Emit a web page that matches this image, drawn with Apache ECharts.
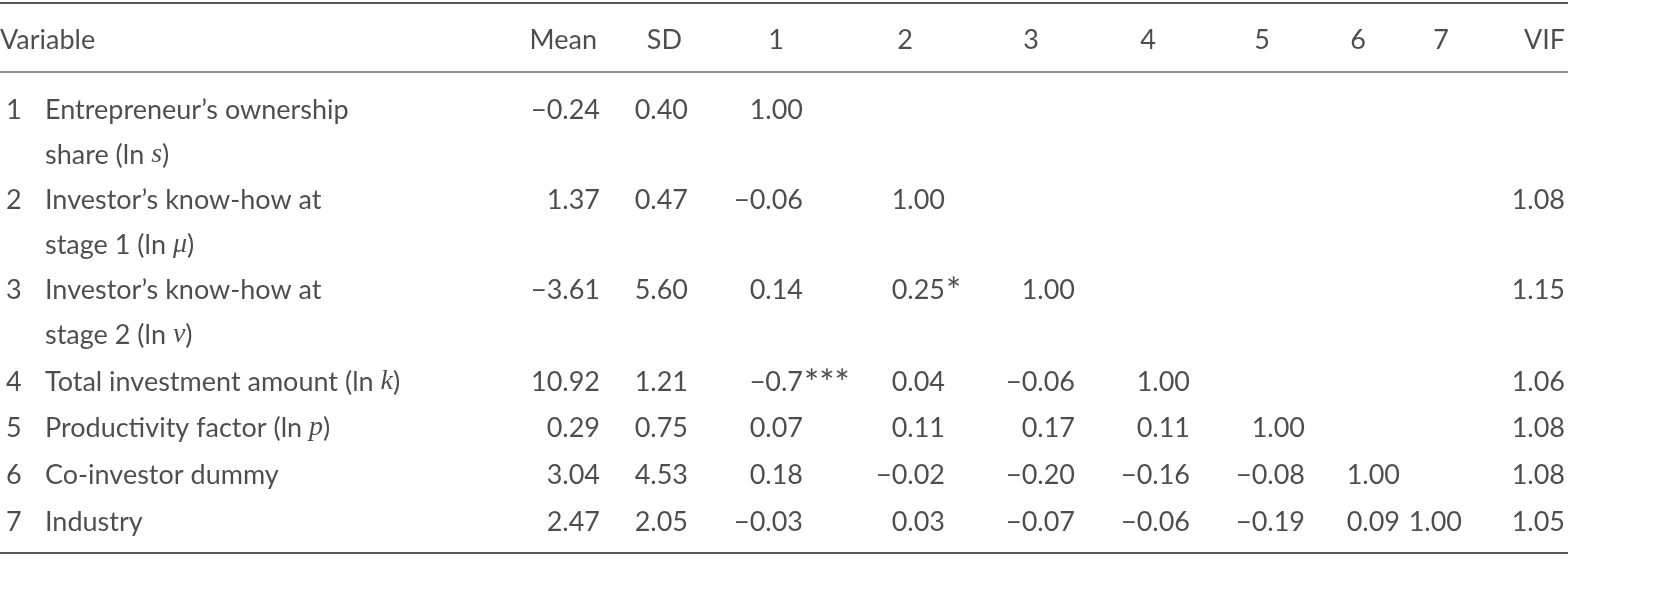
<!DOCTYPE html>
<html><head><meta charset="utf-8">
<script src="https://cdn.jsdelivr.net/npm/echarts@6/dist/echarts.min.js"></script>
<style>html,body{margin:0;background:#fff}#c{width:1658px;height:616px}</style>
</head><body><div id="c"></div>
<script>
const headers = ["Variable","Mean","SD","1","2","3","4","5","6","7","VIF"];
const varNums = ["1","2","3","4","5","6","7"];
const varNames = [
  ["Entrepreneur’s ownership","share (ln {i|s})"],
  ["Investor’s know-how at","stage 1 (ln {i|μ})"],
  ["Investor’s know-how at","stage 2 (ln {i|ν})"],
  ["Total investment amount (ln {i|k})"],
  ["Productivity factor (ln {i|p})"],
  ["Co-investor dummy"],
  ["Industry"]
];
const means = ["−0.24","1.37","−3.61","10.92","0.29","3.04","2.47"];
const sds = ["0.40","0.47","5.60","1.21","0.75","4.53","2.05"];
const corr = [
  ["1.00"],
  ["−0.06","1.00"],
  ["0.14","0.25*","1.00"],
  ["−0.7***","0.04","−0.06","1.00"],
  ["0.07","0.11","0.17","0.11","1.00"],
  ["0.18","−0.02","−0.20","−0.16","−0.08","1.00"],
  ["−0.03","0.03","−0.07","−0.06","−0.19","0.09","1.00"]
];
const vifs = ["","1.08","1.15","1.06","1.08","1.08","1.05"];

// layout
const rowY = [[110,155],[200,245],[290,335],[382],[428],[475],[522]];
const headerY = 40;
const meanX = 600, sdX = 688, vifX = 1565;
const corrRight = [803,945,1075,1190,1305,1400,1462];
const headerX = [[0,'left'],[597,'right'],[682,'right'],[776,'center'],[905,'center'],[1031,'center'],[1148,'center'],[1262,'center'],[1358,'center'],[1441,'center'],[1565,'right']];

const pts = [];
function add(x,y,text,align,extra){ pts.push({value:[x,y,text], label:Object.assign({align:align},extra||{})}); }
headers.forEach((h,i)=>add(headerX[i][0],headerY,h,headerX[i][1]));
for(let r=0;r<7;r++){
  const y0 = rowY[r][0];
  add(6,y0,varNums[r],'left');
  varNames[r].forEach((t,k)=>add(45,rowY[r][k],t,'left'));
  add(meanX,y0,means[r],'right');
  add(sdX,y0,sds[r],'right');
  corr[r].forEach((v,c)=>{
    const m = v.match(/^([^*]*)(\**)$/);
    add(corrRight[c],y0,m[1],'right');
    if(m[2]) add(corrRight[c]+1,y0+2,m[2],'left',{fontSize:36});
  });
  if(vifs[r]) add(vifX,y0,vifs[r],'right');
}
const chart = echarts.init(document.getElementById('c'));
const F = "'Lato','Open Sans',sans-serif";
chart.setOption({
  animation:false,
  grid:{left:0,right:0,top:0,bottom:0},
  xAxis:{type:'value',min:0,max:1658,show:false},
  yAxis:{type:'value',min:0,max:616,inverse:true,show:false},
  series:[{
    type:'scatter',symbolSize:0,data:pts,
    label:{show:true,position:'inside',verticalAlign:'middle',color:'#231f20',fontFamily:F,fontSize:27,
      formatter:p=>p.value[2],
      rich:{i:{fontStyle:'italic',fontFamily:"'Liberation Serif',serif",fontSize:28,color:'#231f20'}}}
  }],
  graphic:[
    {type:'line',shape:{x1:0,y1:3,x2:1568,y2:3},style:{stroke:'#231f20',lineWidth:1.5}},
    {type:'line',shape:{x1:0,y1:72,x2:1568,y2:72},style:{stroke:'#231f20',lineWidth:1.2}},
    {type:'line',shape:{x1:0,y1:553,x2:1568,y2:553},style:{stroke:'#231f20',lineWidth:1.5}}
  ]
});
</script></body></html>
